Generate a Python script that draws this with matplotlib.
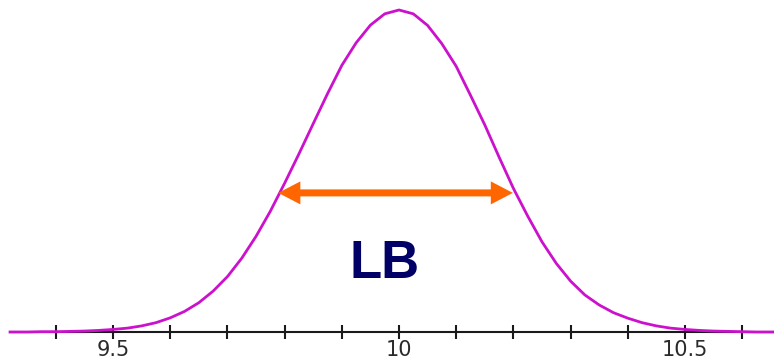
import matplotlib
matplotlib.use("Agg")
import matplotlib.pyplot as plt

# ------------------------------------------------------------
# DATA (peak height normalised to 1)
# ------------------------------------------------------------
x_vals = [
    9.32, 9.35, 9.375, 9.40, 9.425, 9.45, 9.475, 9.50, 9.525, 9.55,
    9.575, 9.60, 9.625, 9.65, 9.675, 9.70, 9.725, 9.75, 9.775, 9.80,
    9.825, 9.85, 9.875, 9.90, 9.925, 9.95, 9.975, 10.00, 10.025, 10.05,
    10.075, 10.10, 10.125, 10.15, 10.175, 10.20, 10.225, 10.25, 10.275, 10.30,
    10.325, 10.35, 10.375, 10.40, 10.425, 10.45, 10.475, 10.50, 10.525, 10.55,
    10.575, 10.60, 10.625, 10.66,
]
y_vals = [
    0.000, 0.000, 0.001, 0.001, 0.002, 0.003, 0.005, 0.008, 0.012, 0.019,
    0.029, 0.044, 0.064, 0.091, 0.127, 0.172, 0.229, 0.297, 0.375, 0.462,
    0.553, 0.647, 0.740, 0.828, 0.898, 0.953, 0.988, 1.000, 0.988, 0.952,
    0.895, 0.825, 0.735, 0.643, 0.543, 0.446, 0.360, 0.280, 0.213, 0.158,
    0.115, 0.084, 0.060, 0.043, 0.029, 0.019, 0.012, 0.008, 0.005, 0.003,
    0.002, 0.001, 0.000, 0.000,
]

major_ticks = [9.5, 10.0, 10.5]
major_labels = ["9.5", "10", "10.5"]
minor_ticks = [9.4, 9.6, 9.7, 9.8, 9.9, 10.1, 10.2, 10.3, 10.4, 10.6]

# width marker (LB)
lb_left = 9.789
lb_right = 10.199
lb_level = 0.432
lb_text = "LB"

# ------------------------------------------------------------
# FIGURE
# ------------------------------------------------------------
fig = plt.figure(figsize=(7.74, 3.61), dpi=100)
ax = fig.add_axes([0, 0, 1, 1])
ax.set_xlim(9.3024, 10.6556)
ax.set_ylim(-0.090, 1.031)

ax.plot(x_vals, y_vals, color="#cc11cc", linewidth=2.0, zorder=3,
        solid_joinstyle="round")

# axis: only the bottom line, at y = 0
for side in ["left", "right", "top"]:
    ax.spines[side].set_visible(False)
ax.spines["bottom"].set_position(("data", 0))
ax.spines["bottom"].set_bounds(9.32, 10.66)
ax.spines["bottom"].set_linewidth(1.5)
ax.spines["bottom"].set_color("#1a1a1a")
ax.set_yticks([])

ax.set_xticks(major_ticks)
ax.set_xticklabels(major_labels, fontsize=15, color="#2a2a2a",
                   family="DejaVu Sans")
ax.set_xticks(minor_ticks, minor=True)
ax.tick_params(axis="x", which="both", direction="inout", length=9.5,
               width=1.5, color="#1a1a1a", pad=1)

# double-headed arrow as one filled shape
hl = 0.0385   # head length (x units)
hw = 0.0357   # half head height (y units)
sw = 0.0109   # half shaft height (y units)
L, R, y = lb_left, lb_right, lb_level
arrow_x = [L, L + hl, L + hl, R - hl, R - hl, R, R - hl, R - hl, L + hl, L + hl]
arrow_y = [y, y + hw, y + sw, y + sw, y + hw, y, y - hw, y - sw, y - sw, y - hw]
ax.fill(arrow_x, arrow_y, color="#ff6600", linewidth=0, zorder=4)

ax.text(9.9755, 0.1677, lb_text, fontsize=38, fontweight="bold",
        color="#000066", family="Liberation Sans", ha="center",
        va="baseline")

fig.savefig("out.png", dpi=100)
